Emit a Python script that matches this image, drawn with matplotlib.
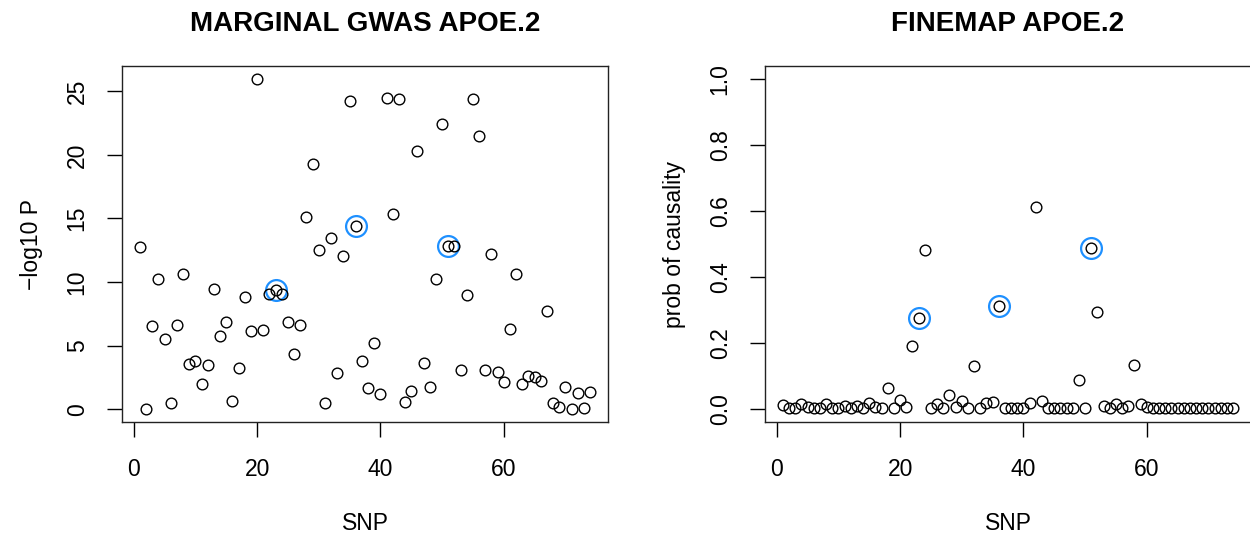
import matplotlib as mpl
import matplotlib.pyplot as plt
import numpy as np

mpl.rcParams["font.family"] = ["Liberation Sans", "DejaVu Sans"]
mpl.rcParams["font.size"] = 16.5

# SNP index along the region
SNPS = np.arange(1, 75)
# SNPs marked as causal (blue rings)
CAUSAL = [23, 36, 51]

GWAS_LOGP = [
    12.75, 0.05, 6.56, 10.27, 5.54, 0.50, 6.63, 10.63, 3.55, 3.84,
    1.96, 3.47, 9.46, 5.75, 6.87, 0.68, 3.27, 8.83, 6.16, 25.94,
    6.27, 9.07, 9.40, 9.07, 6.87, 4.39, 6.61, 15.12, 19.25, 12.49,
    0.47, 13.50, 2.87, 12.07, 24.19, 14.37, 3.79, 1.65, 5.22, 1.18,
    24.48, 15.39, 24.35, 0.60, 1.44, 20.32, 3.68, 1.75, 10.24, 22.41,
    12.80, 12.80, 3.06, 9.01, 24.37, 21.47, 3.13, 12.23, 2.93, 2.14,
    6.32, 10.63, 1.96, 2.61, 2.53, 2.22, 7.73, 0.47, 0.18, 1.78,
    0.05, 1.28, 0.10, 1.36,
]

FINEMAP_PROB = [
    0.011, 0.002, 0.002, 0.015, 0.007, 0.002, 0.002, 0.015, 0.002, 0.002,
    0.009, 0.002, 0.009, 0.002, 0.018, 0.006, 0.002, 0.062, 0.002, 0.027,
    0.007, 0.190, 0.274, 0.483, 0.002, 0.016, 0.002, 0.042, 0.005, 0.024,
    0.002, 0.130, 0.002, 0.019, 0.022, 0.313, 0.002, 0.002, 0.002, 0.002,
    0.019, 0.613, 0.025, 0.002, 0.002, 0.002, 0.002, 0.002, 0.087, 0.002,
    0.488, 0.294, 0.010, 0.002, 0.014, 0.002, 0.010, 0.134, 0.016, 0.006,
    0.002, 0.002, 0.002, 0.002, 0.002, 0.002, 0.002, 0.002, 0.002, 0.002,
    0.002, 0.002, 0.002, 0.002,
]

X_TICKS = [0, 20, 40, 60]
GWAS_TICKS = [0, 5, 10, 15, 20, 25]
PROB_TICKS = [0.0, 0.2, 0.4, 0.6, 0.8, 1.0]

W, H = 1250, 533


def r_range(lo, hi):
    # R's default 4% axis padding
    pad = (hi - lo) * 0.04
    return lo - pad, hi + pad


def panel(ax, y, title, ylabel, yticks, ylim, yfmt):
    y = np.asarray(y)
    idx = [SNPS.tolist().index(s) for s in CAUSAL]
    ax.plot(SNPS[idx], y[idx], "o", ms=15, mfc="none", mec="#1E90FF", mew=1.6)
    ax.plot(SNPS, y, "o", ms=7.7, mfc="none", mec="black", mew=1.0)

    ax.set_xlim(r_range(SNPS.min(), SNPS.max()))
    ax.set_ylim(ylim)
    ax.set_xticks(X_TICKS)
    ax.set_yticks(yticks)
    ax.set_yticklabels([yfmt.format(v) for v in yticks], rotation=90, va="center")
    ax.tick_params(length=10.5, width=1.0, color="black")
    ax.tick_params(axis="x", pad=15.5)
    ax.tick_params(axis="y", pad=13.5)
    for s in ax.spines.values():
        s.set_linewidth(1.0)
        s.set_color("#222222")

    ax.set_title(title, fontsize=20, fontweight="bold", pad=25)
    ax.set_xlabel("SNP", labelpad=22)
    ax.set_ylabel(ylabel, labelpad=16)


fig = plt.figure(figsize=(W / 100, H / 100), dpi=100)
ax1 = fig.add_axes([122 / W, (H - 422) / H, 486 / W, 356 / H])
ax2 = fig.add_axes([765 / W, (H - 422) / H, 486 / W, 356 / H])

panel(ax1, GWAS_LOGP, "MARGINAL GWAS APOE.2", "\u2212log10 P",
      GWAS_TICKS, r_range(min(GWAS_LOGP), max(GWAS_LOGP)), "{:g}")
panel(ax2, FINEMAP_PROB, "FINEMAP APOE.2", "prob of causality",
      PROB_TICKS, r_range(0, 1), "{:.1f}")

fig.savefig("out.png", dpi=100)
